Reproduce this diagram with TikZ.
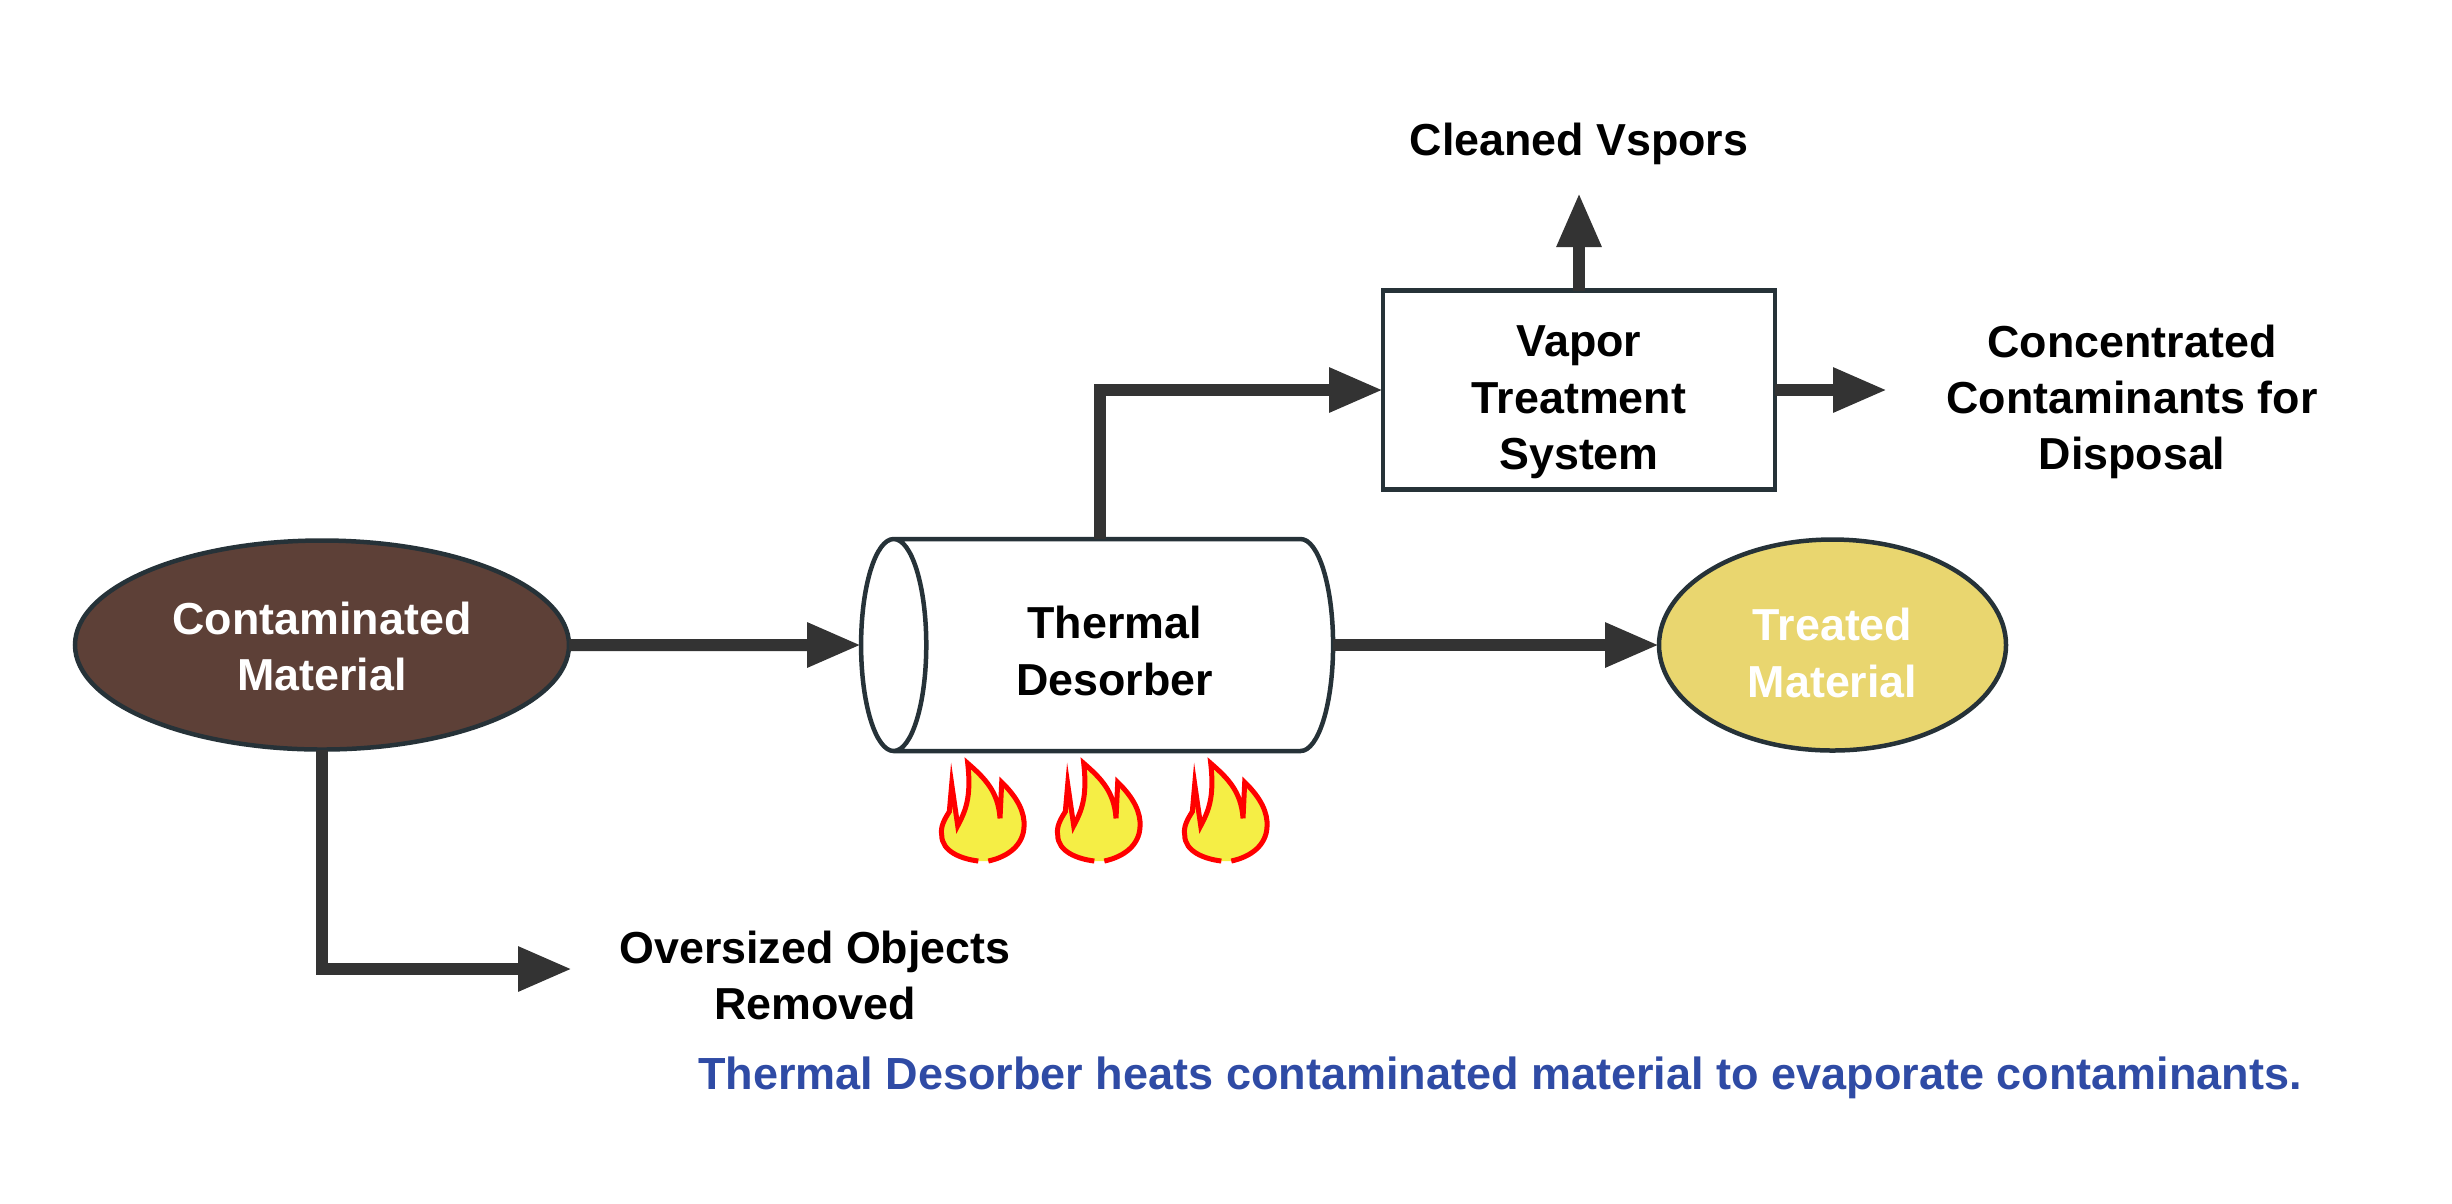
\documentclass[tikz,border=0pt]{standalone}
\usepackage{fontspec}
\setmainfont{Liberation Sans}
\usetikzlibrary{shapes.geometric,arrows.meta}
\definecolor{edgedark}{HTML}{263238}
\definecolor{arrowdark}{HTML}{333333}
\definecolor{soilbrown}{HTML}{5D4037}
\definecolor{cleanyellow}{HTML}{E9D66F}
\definecolor{flameyellow}{HTML}{F5EE45}
\definecolor{noteblue}{HTML}{2F4BA5}
\newcommand{\lineroom}[1]{\rule{0pt}{#1cm}}
\newcommand{\flamepath}{(.483,-1.06) .. controls (.317,-1.04) and (.117,-.967) .. (.117,-.80)
  .. controls (.10,-.717) and (.15,-.633) .. (.193,-.567) -- (.217,-.293) -- (.277,-.707)
  .. controls (.35,-.567) and (.417,-.433) .. (.377,-.083)
  .. controls (.55,-.233) and (.683,-.367) .. (.70,-.633) -- (.717,-.273)
  .. controls (.883,-.433) and (.95,-.583) .. (.94,-.717)
  .. controls (.933,-.90) and (.783,-1.017) .. (.583,-1.06)}

\begin{document}
\begin{tikzpicture}[
  blob/.style={ellipse, draw=edgedark, line width=0.045cm, fill=#1, inner sep=0pt, outer sep=0pt, align=center, text=white, font=\fontsize{12.75}{16}\selectfont\bfseries},
  unit/.style={rectangle, draw=edgedark, line width=0.045cm, fill=white, inner sep=0pt, outer sep=0pt, align=center, font=\fontsize{12.75}{16}\selectfont\bfseries},
  label/.style={inner sep=0pt, align=center, font=\fontsize{12.75}{16}\selectfont\bfseries},
  flow/.style={draw=arrowdark, line width=0.12cm, -{Triangle[length=0.54cm, width=0.42cm]}},
  flame/.pic={
    \fill[flameyellow] \flamepath -- cycle;
    \draw[red, line width=0.05cm] \flamepath;
  }
]
  \useasboundingbox (0,0) rectangle (24.52,-12.03);
  \node[blob=soilbrown, minimum width=4.94cm, minimum height=2.09cm] (contaminated) at (3.22,-6.45) {\lineroom{0.354}Contaminated\\Material};
  \node[unit, shape=cylinder, shape border rotate=180, aspect=0.645, minimum width=2.12cm, minimum height=4.72cm] (desorber) at (11.145,-6.45) {\lineroom{0.444}Thermal\\Desorber};
  \node[blob=cleanyellow, minimum width=3.47cm, minimum height=2.11cm] (treated) at (18.325,-6.45) {\lineroom{0.484}Treated\\Material};
  \node[unit, minimum width=3.92cm, minimum height=1.99cm] (vapor) at (15.79,-3.90) {\lineroom{0.556}Vapor\\Treatment\\System};
  \node[label] (cleaned) at (15.79,-1.44) {Cleaned Vspors};
  \node[label] (concentrated) at (21.32,-4.02) {Concentrated\\Contaminants for\\Disposal};
  \node[label] (oversized) at (8.15,-9.755) {Oversized Objects\\Removed};
  \node[label, text=noteblue, font=\fontsize{12.81}{16}\selectfont\bfseries] (note) at (15.0,-10.78) {Thermal Desorber heats contaminated material to evaporate contaminants.};
  \coordinate (cleanedin) at (15.79,-1.93);
  \coordinate (concentratedin) at (18.87,-3.90);
  \coordinate (oversizedin) at (5.72,-9.69);
  \draw[flow] (contaminated.east) -- (desorber.west);
  \draw[flow] (desorber.east) -- (treated.west);
  \draw[flow] ([xshift=-0.15cm]desorber.north) |- (vapor.west);
  \draw[flow] (vapor.north) -- (cleanedin);
  \draw[flow] (vapor.east) -- (concentratedin);
  \draw[flow] (contaminated.south) |- (oversizedin);
  \foreach \fx in {9.30,10.46,11.73}
    \pic at (\fx,-7.55) {flame};
\end{tikzpicture}
\end{document}
